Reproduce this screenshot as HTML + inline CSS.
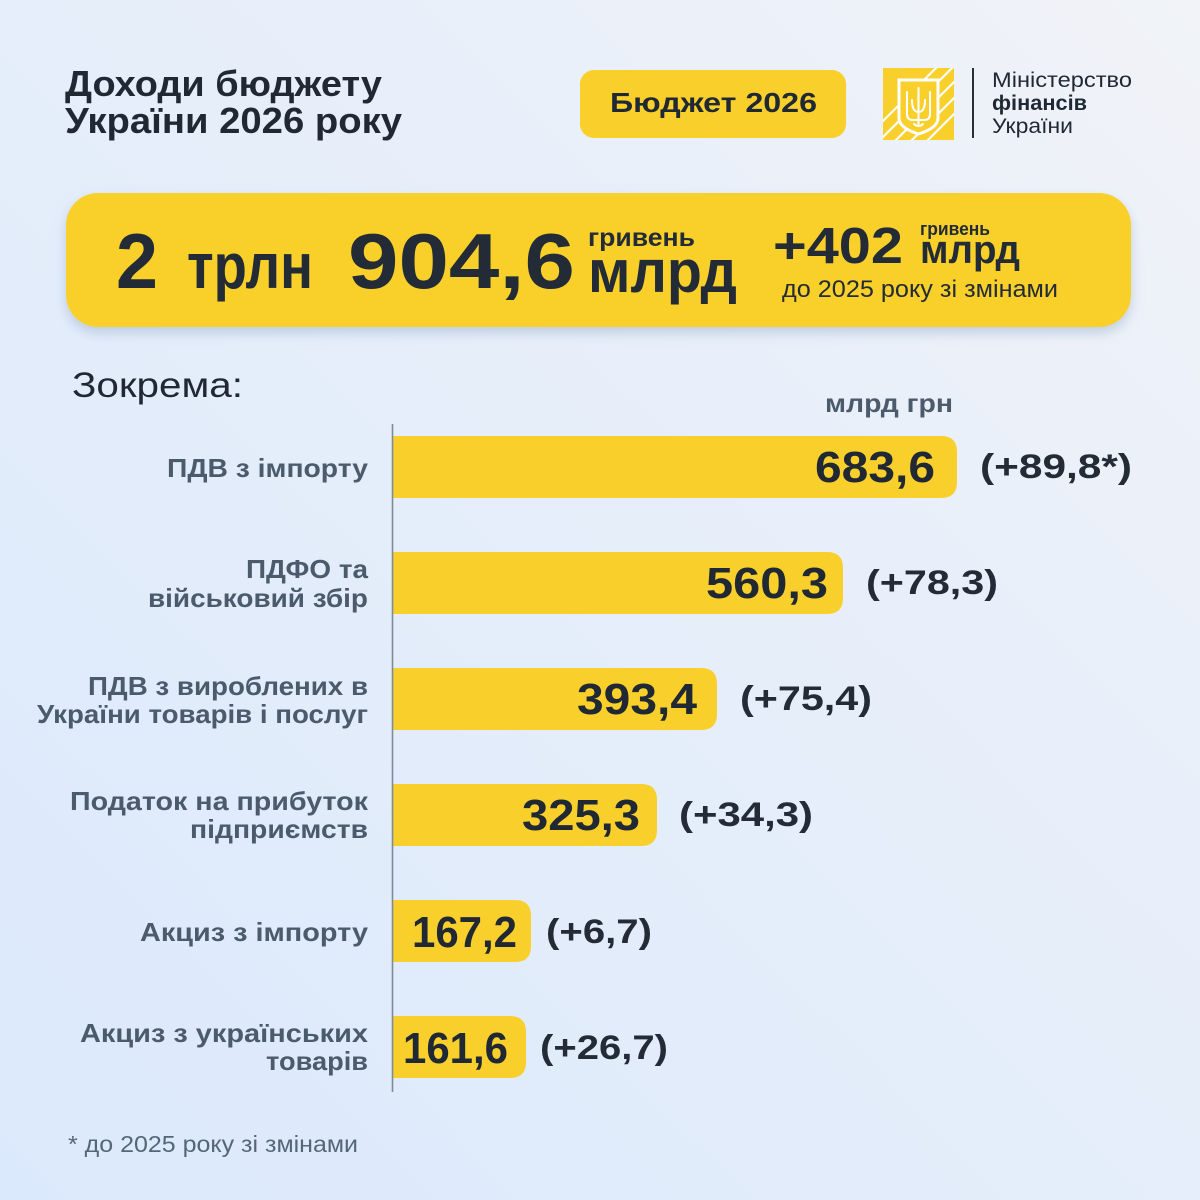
<!DOCTYPE html>
<html>
<head>
<meta charset="utf-8">
<style>
  html,body{margin:0;padding:0;}
  body{width:1200px;height:1200px;overflow:hidden;}
  svg{display:block;}
  text{font-family:"Liberation Sans","DejaVu Sans",sans-serif;}
</style>
</head>
<body>
<svg width="1200" height="1200" viewBox="0 0 1200 1200" xmlns="http://www.w3.org/2000/svg">
  <defs>
    <linearGradient id="bg" x1="0" y1="1" x2="1" y2="0">
      <stop offset="0" stop-color="#dbe9fc"/>
      <stop offset="0.55" stop-color="#e6eefa"/>
      <stop offset="1" stop-color="#f1f3f8"/>
    </linearGradient>
    <filter id="sh" x="-5%" y="-20%" width="110%" height="150%">
      <feDropShadow dx="0" dy="6" stdDeviation="6" flood-color="#9db3cc" flood-opacity="0.55"/>
    </filter>
    <clipPath id="sq"><rect x="883" y="68" width="71" height="72"/></clipPath>
  </defs>

  <rect width="1200" height="1200" fill="url(#bg)"/>

  <!-- Title -->
  <g fill="#1f2833" font-weight="700" font-size="36">
    <text x="65" y="96" textLength="317" lengthAdjust="spacingAndGlyphs">Доходи бюджету</text>
    <text x="65" y="133" textLength="337" lengthAdjust="spacingAndGlyphs">України 2026 року</text>
  </g>

  <!-- Badge -->
  <rect x="580" y="70" width="266" height="68" rx="14" fill="#f9cf2c"/>
  <text x="610" y="112" font-size="28" font-weight="700" fill="#1f2833" textLength="207" lengthAdjust="spacingAndGlyphs">Бюджет 2026</text>

  <!-- Logo -->
  <rect x="883" y="68" width="71" height="72" fill="#f9cf2c"/>
  <g clip-path="url(#sq)" stroke="#ffffff" stroke-width="2.2" fill="none">
    <line x1="870" y1="150" x2="960" y2="60"/>
    <line x1="878" y1="158" x2="968" y2="68"/>
    <line x1="886" y1="166" x2="976" y2="76"/>
    <line x1="894" y1="174" x2="984" y2="84"/>
    <line x1="862" y1="142" x2="952" y2="52"/>
  </g>
  <path d="M899 80 H938 V118 Q938 128 918.5 134 Q899 128 899 118 Z" fill="#f9cf2c" stroke="#ffffff" stroke-width="3"/>
  <g stroke="#ffffff" stroke-width="2" fill="none" stroke-linecap="round">
    <line x1="918.5" y1="88" x2="918.5" y2="124"/>
    <path d="M907 92 V114 Q907 120 913 120 H924 Q930 120 930 114 V92"/>
    <path d="M912 100 Q912 112 918.5 112 Q925 112 925 100"/>
    <path d="M914 124 Q918.5 128 923 124"/>
  </g>
  <line x1="973" y1="68" x2="973" y2="138" stroke="#2a2f36" stroke-width="2"/>
  <g fill="#1f2833" font-size="21">
    <text x="992" y="87" textLength="140" lengthAdjust="spacingAndGlyphs">Міністерство</text>
    <text x="992" y="110" font-weight="700" textLength="95" lengthAdjust="spacingAndGlyphs">фінансів</text>
    <text x="992" y="133" textLength="81" lengthAdjust="spacingAndGlyphs">України</text>
  </g>

  <!-- Big banner -->
  <rect x="66" y="193" width="1065" height="134" rx="32" fill="#f9cf2c" filter="url(#sh)"/>
  <g fill="#232b36" font-weight="700">
    <text x="116" y="288" font-size="78" textLength="42" lengthAdjust="spacingAndGlyphs">2</text>
    <text x="187" y="288" font-size="64" textLength="126" lengthAdjust="spacingAndGlyphs">трлн</text>
    <text x="348" y="288" font-size="78" textLength="227" lengthAdjust="spacingAndGlyphs">904,6</text>
    <text x="588" y="246" font-size="25" textLength="107" lengthAdjust="spacingAndGlyphs">гривень</text>
    <text x="588" y="292" font-size="60" textLength="149" lengthAdjust="spacingAndGlyphs">млрд</text>
    <text x="773" y="263" font-size="51" textLength="130" lengthAdjust="spacingAndGlyphs">+402</text>
    <text x="920" y="235" font-size="18" textLength="70" lengthAdjust="spacingAndGlyphs">гривень</text>
    <text x="920" y="263" font-size="40" textLength="100" lengthAdjust="spacingAndGlyphs">млрд</text>
  </g>
  <text x="782" y="297" font-size="24" fill="#232b36" textLength="276" lengthAdjust="spacingAndGlyphs">до 2025 року зі змінами</text>

  <!-- Section heading -->
  <text x="72" y="397" font-size="35" fill="#1f2833" textLength="171" lengthAdjust="spacingAndGlyphs">Зокрема:</text>
  <text x="825" y="412" font-size="26" font-weight="700" fill="#4b5b6c" textLength="128" lengthAdjust="spacingAndGlyphs">млрд грн</text>

  <!-- Bars -->
  <g fill="#f9cf2c">
    <path d="M393 436 H941 Q957 436 957 452 V482 Q957 498 941 498 H393 Z"/>
    <path d="M393 552 H827 Q843 552 843 568 V598 Q843 614 827 614 H393 Z"/>
    <path d="M393 668 H701 Q717 668 717 684 V714 Q717 730 701 730 H393 Z"/>
    <path d="M393 784 H641 Q657 784 657 800 V830 Q657 846 641 846 H393 Z"/>
    <path d="M393 900 H515 Q531 900 531 916 V946 Q531 962 515 962 H393 Z"/>
    <path d="M393 1016 H510 Q526 1016 526 1032 V1062 Q526 1078 510 1078 H393 Z"/>
  </g>
  <line x1="392.5" y1="424" x2="392.5" y2="1092" stroke="#7d8a99" stroke-width="1.6"/>

  <!-- Labels -->
  <g fill="#4b5b6c" font-size="26" font-weight="700" text-anchor="end">
    <text x="368" y="477" textLength="201" lengthAdjust="spacingAndGlyphs">ПДВ з імпорту</text>
    <text x="368" y="578" textLength="122" lengthAdjust="spacingAndGlyphs">ПДФО та</text>
    <text x="368" y="607" textLength="220" lengthAdjust="spacingAndGlyphs">військовий збір</text>
    <text x="368" y="695" textLength="280" lengthAdjust="spacingAndGlyphs">ПДВ з вироблених в</text>
    <text x="368" y="723" textLength="331" lengthAdjust="spacingAndGlyphs">України товарів і послуг</text>
    <text x="368" y="810" textLength="298" lengthAdjust="spacingAndGlyphs">Податок на прибуток</text>
    <text x="368" y="838" textLength="178" lengthAdjust="spacingAndGlyphs">підприємств</text>
    <text x="368" y="941" textLength="228" lengthAdjust="spacingAndGlyphs">Акциз з імпорту</text>
    <text x="368" y="1042" textLength="288" lengthAdjust="spacingAndGlyphs">Акциз з українських</text>
    <text x="368" y="1070" textLength="102" lengthAdjust="spacingAndGlyphs">товарів</text>
  </g>

  <!-- Values -->
  <g fill="#1f2833" font-size="44" font-weight="700">
    <text x="815" y="482" textLength="120" lengthAdjust="spacingAndGlyphs">683,6</text>
    <text x="706" y="598" textLength="122" lengthAdjust="spacingAndGlyphs">560,3</text>
    <text x="577" y="714" textLength="120" lengthAdjust="spacingAndGlyphs">393,4</text>
    <text x="522" y="830" textLength="118" lengthAdjust="spacingAndGlyphs">325,3</text>
    <text x="412" y="947" textLength="105" lengthAdjust="spacingAndGlyphs">167,2</text>
    <text x="403" y="1063" textLength="105" lengthAdjust="spacingAndGlyphs">161,6</text>
  </g>

  <!-- Deltas -->
  <g fill="#232b36" font-size="34" font-weight="700">
    <text x="980" y="478" textLength="152" lengthAdjust="spacingAndGlyphs">(+89,8*)</text>
    <text x="866" y="594" textLength="132" lengthAdjust="spacingAndGlyphs">(+78,3)</text>
    <text x="740" y="710" textLength="132" lengthAdjust="spacingAndGlyphs">(+75,4)</text>
    <text x="679" y="826" textLength="134" lengthAdjust="spacingAndGlyphs">(+34,3)</text>
    <text x="546" y="943" textLength="106" lengthAdjust="spacingAndGlyphs">(+6,7)</text>
    <text x="540" y="1059" textLength="128" lengthAdjust="spacingAndGlyphs">(+26,7)</text>
  </g>

  <!-- Footnote -->
  <text x="68" y="1152" font-size="23" fill="#56667a" textLength="290" lengthAdjust="spacingAndGlyphs">* до 2025 року зі змінами</text>
</svg>
</body>
</html>
